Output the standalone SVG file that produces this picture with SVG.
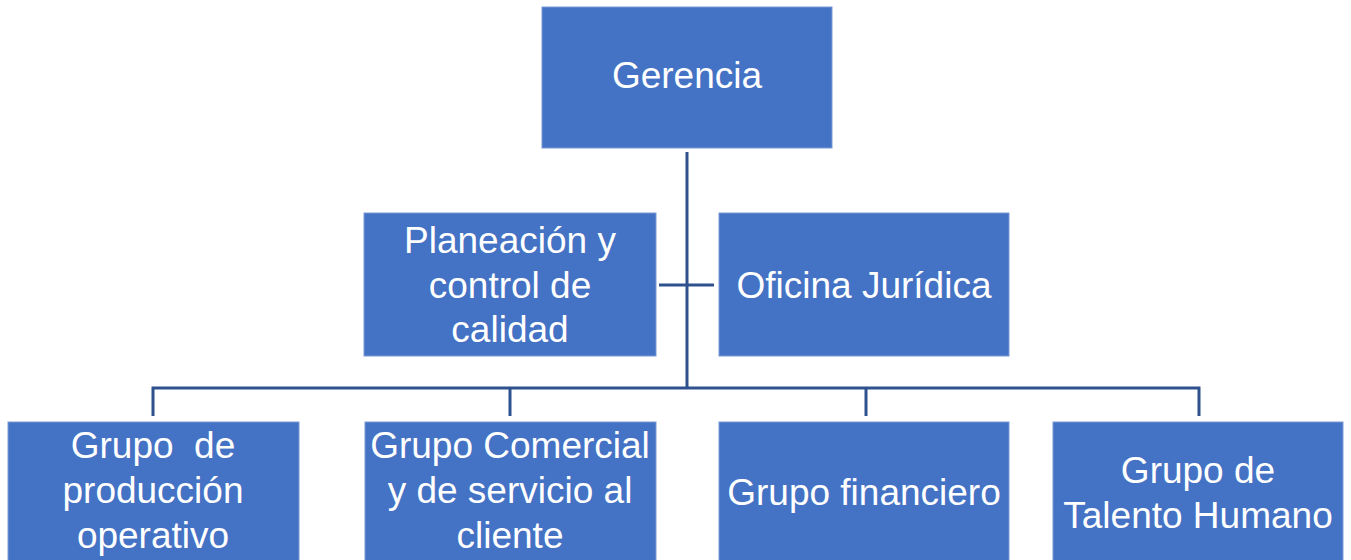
<svg xmlns="http://www.w3.org/2000/svg" width="1351" height="560" viewBox="0 0 1351 560">
<style>
.box{fill:#4472C4;stroke:#7a9ad6;stroke-width:1}
.t{font-family:"Liberation Sans",Arial,sans-serif;font-size:37px;fill:#ffffff;text-anchor:middle;white-space:pre}
.ln{stroke:#2F528F;stroke-width:3;fill:none}
</style>
<rect width="1351" height="560" fill="#ffffff"/>
<g id="connectors">
<path class="ln" d="M687 152 V388"/>
<path class="ln" d="M659 285 H714"/>
<path class="ln" d="M153 416 V388 H1199 V416"/>
<path class="ln" d="M510 388 V416"/>
<path class="ln" d="M866 388 V416"/>
</g>
<g id="gerencia"><rect class="box" x="542" y="7" width="290" height="141"/><text class="t" x="687" y="88">Gerencia</text></g>
<g id="planeacion"><rect class="box" x="364" y="213" width="292" height="143"/><text class="t" x="510" y="253">Planeación y</text><text class="t" x="510" y="298">control de</text><text class="t" x="510" y="342">calidad</text></g>
<g id="juridica"><rect class="box" x="719" y="213" width="290" height="143"/><text class="t" x="864" y="298">Oficina Jurídica</text></g>
<g id="produccion"><rect class="box" x="8" y="422" width="291" height="150"/><text class="t" x="153" y="458">Grupo  de</text><text class="t" x="153" y="503">producción</text><text class="t" x="153" y="548">operativo</text></g>
<g id="comercial"><rect class="box" x="365" y="422" width="291" height="150"/><text class="t" x="510" y="458">Grupo Comercial</text><text class="t" x="510" y="503">y de servicio al</text><text class="t" x="510" y="548">cliente</text></g>
<g id="financiero"><rect class="box" x="719" y="422" width="290" height="150"/><text class="t" x="864" y="505">Grupo financiero</text></g>
<g id="talento"><rect class="box" x="1053" y="422" width="290" height="150"/><text class="t" x="1198" y="483">Grupo de</text><text class="t" x="1198" y="528">Talento Humano</text></g>
</svg>
